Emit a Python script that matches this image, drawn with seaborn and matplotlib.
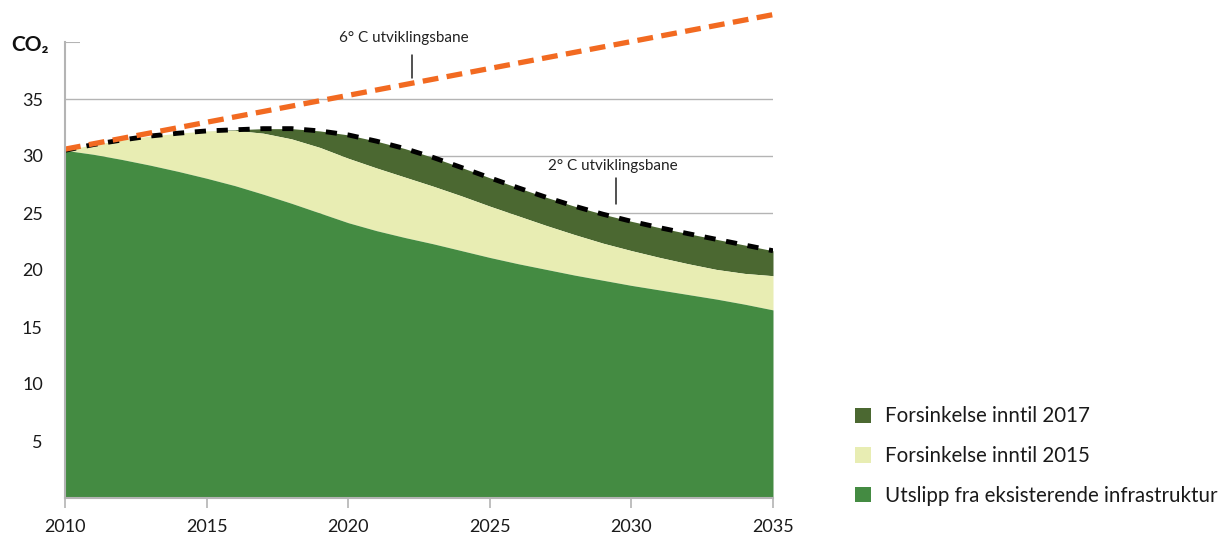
import matplotlib
matplotlib.use("Agg")
import matplotlib.pyplot as plt
import seaborn as sns
import pandas as pd
from matplotlib.patches import Patch

years = list(range(2010, 2036))
infra = [30.5, 30.15, 29.7, 29.2, 28.65, 28.05, 27.4, 26.65, 25.85, 25.0, 24.15, 23.45,
         22.85, 22.3, 21.7, 21.1, 20.55, 20.05, 19.55, 19.1, 18.65, 18.25, 17.85, 17.45,
         17.0, 16.5]
delay2015 = [30.5, 31.0, 31.4, 31.75, 32.0, 32.2, 32.25, 32.0, 31.5, 30.75, 29.8, 28.95,
             28.15, 27.35, 26.5, 25.6, 24.75, 23.9, 23.1, 22.35, 21.7, 21.1, 20.55, 20.05,
             19.7, 19.5]
delay2017 = [30.5, 31.0, 31.4, 31.75, 32.0, 32.2, 32.3, 32.4, 32.4, 32.2, 31.85, 31.3,
             30.65, 29.87, 28.99, 28.09, 27.21, 26.37, 25.59, 24.89, 24.27, 23.71, 23.19,
             22.69, 22.19, 21.69]
six_deg_years = [2010, 2035]
six_deg = [30.6, 42.4]
yticks = [5, 10, 15, 20, 25, 30, 35]
xticks = [2010, 2015, 2020, 2025, 2030, 2035]
labels = ["Forsinkelse inntil 2017", "Forsinkelse inntil 2015",
          "Utslipp fra eksisterende infrastruktur"]

df = pd.DataFrame({"year": years, "infra": infra, "d15": delay2015, "d17": delay2017})

sns.set_style("white")
plt.rcParams["font.family"] = ["Lato", "DejaVu Sans"]

c_dark = "#4b6831"
c_light = "#e8edb3"
c_green = "#448b42"
c_orange = "#f26a21"
c_grid = "#b4b4b4"

fig = plt.figure(figsize=(12.28, 5.38), dpi=100)
ax = fig.add_axes([65/1228, 40/538, 708/1228, 456/538])

for v in [25, 30, 35]:
    ax.axhline(v, color=c_grid, lw=1.0, zorder=0)
ax.axhline(40, xmin=0, xmax=15/708, color=c_grid, lw=1.5, zorder=0)

ax.fill_between(df["year"], df["d15"], df["d17"], color=c_dark, lw=0, zorder=1)
ax.fill_between(df["year"], df["infra"], df["d15"], color=c_light, lw=0, zorder=1)
ax.fill_between(df["year"], 0, df["infra"], color=c_green, lw=0, zorder=1)

sns.lineplot(x=six_deg_years, y=six_deg, ax=ax, color=c_orange, linewidth=3.8,
             linestyle=(0, (3.0, 1.6)), clip_on=False, zorder=4)
sns.lineplot(data=df, x="year", y="d17", ax=ax, color="black", linewidth=3.5,
             linestyle=(0, (2.3, 2.2)), zorder=3)
for ln in ax.get_lines():
    ln.set_solid_capstyle("butt")
    ln.set_dash_capstyle("butt")

ax.set_xlim(2010, 2035)
ax.set_ylim(0, 40)
ax.set_xticks(xticks)
ax.set_xticklabels([str(x) for x in xticks])
ax.set_yticks(yticks)
ax.set_yticklabels([str(y) for y in yticks])
ax.set_xlabel("")
ax.set_ylabel("")
ax.tick_params(axis="x", direction="out", length=7, width=1.2, color=c_grid,
               pad=8, labelsize=13, labelcolor="#1a1a1a", bottom=True)
ax.tick_params(axis="y", length=0, pad=16, labelsize=13, labelcolor="#1a1a1a")

for s in ["top", "right"]:
    ax.spines[s].set_visible(False)
for s in ["left", "bottom"]:
    ax.spines[s].set_color(c_grid)
    ax.spines[s].set_linewidth(1.5)
    ax.spines[s].set_zorder(5)

fig.text(11/1228, 1 - 45/538, "CO₂", fontsize=15, fontweight="bold",
         va="center", ha="left", color="#111111")

ax.annotate("6° C utviklingsbane", xy=(2022.25, 36.8), xytext=(2021.97, 40.35),
            ha="center", va="center", fontsize=11, color="#222222",
            annotation_clip=False)
ax.plot([2022.25, 2022.25], [36.8, 38.9], color="#222222", lw=1.1, clip_on=False)
ax.annotate("2° C utviklingsbane", xy=(2029.46, 25.8), xytext=(2029.35, 29.1),
            ha="center", va="center", fontsize=11, color="#222222")
ax.plot([2029.46, 2029.46], [25.8, 28.1], color="#222222", lw=1.1)

handles = [Patch(facecolor=c, edgecolor="none") for c in [c_dark, c_light, c_green]]
fig.legend(handles, labels, loc="center left", bbox_to_anchor=(847/1228, 1 - 456/538),
           frameon=False, fontsize=14.8, handlelength=0.78, handleheight=0.78,
           handletextpad=0.68, labelspacing=0.95, borderaxespad=0,
           labelcolor="#1a1a1a")

fig.savefig("out.png", dpi=100)
